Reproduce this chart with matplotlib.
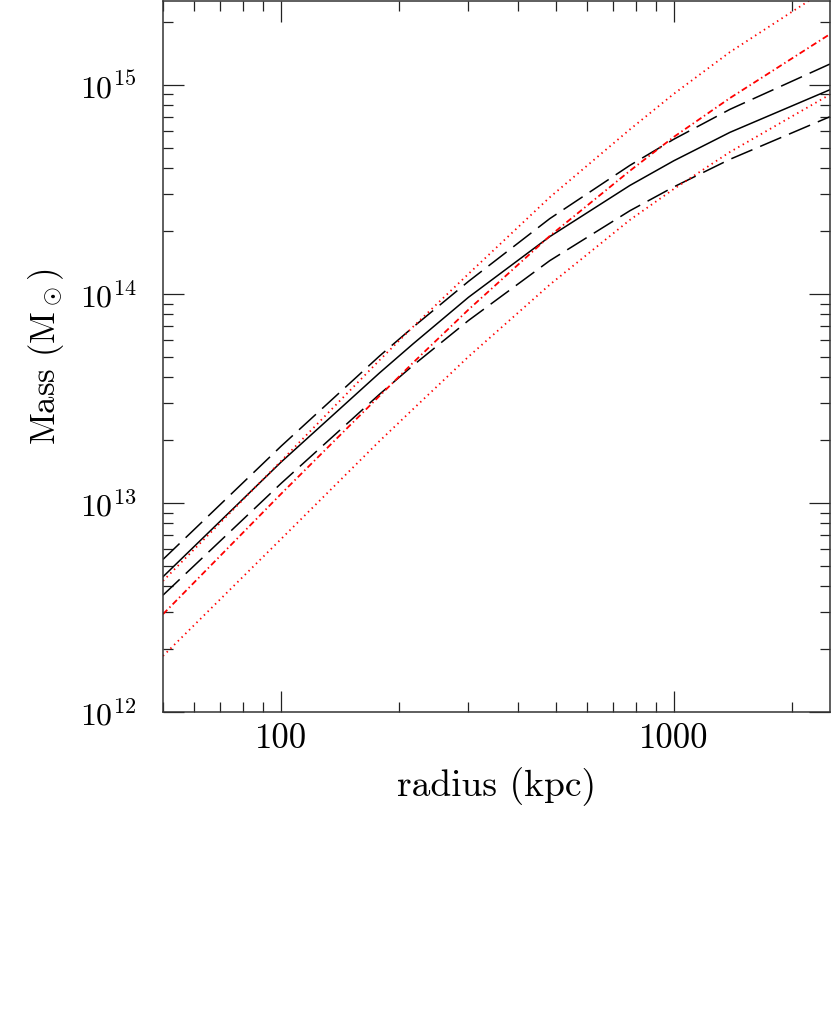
# ==============importing libraries==================
import numpy as np
import matplotlib
matplotlib.use("Agg")
import matplotlib.pyplot as plt

# ===============chart data=========================================
# radius in kpc, masses stored as log10(M / Msun)
radius = [50, 100, 178, 217, 300, 483, 773, 1000, 1390, 2500]

dashed_upper = [12.730, 13.272, 13.703, 13.842, 14.060, 14.360, 14.615, 14.740, 14.883, 15.100]
solid_mid = [12.647, 13.196, 13.622, 13.762, 13.984, 14.274, 14.519, 14.637, 14.773, 14.977]
dashed_lower = [12.559, 13.094, 13.520, 13.659, 13.873, 14.159, 14.398, 14.512, 14.644, 14.848]

red_dotted_upper = [12.627, 13.201, 13.683, 13.844, 14.096, 14.462, 14.787, 14.957, 15.157, 15.468]
red_dashdot = [12.468, 13.044, 13.512, 13.672, 13.925, 14.277, 14.589, 14.751, 14.937, 15.243]
red_dotted_lower = [12.268, 12.828, 13.296, 13.450, 13.700, 14.044, 14.354, 14.502, 14.679, 14.954]

x_limits = [50, 2500]
y_limits = [1e12, 2.52e15]
# ===================================================

plt.rcParams['font.family'] = ['cmr10']
plt.rcParams['mathtext.fontset'] = 'cm'
plt.rcParams['axes.formatter.use_mathtext'] = True

fig = plt.figure(figsize=(8.31, 10.15), dpi=100)
ax = fig.add_axes([163 / 831, (1015 - 712) / 1015, 667 / 831, 711 / 1015])

r = np.array(radius)

# ==================black curves========================
ax.plot(r, 10 ** np.array(solid_mid), color='black', lw=1.1)
ax.plot(r, 10 ** np.array(dashed_upper), color='black', lw=1.1, dashes=(15, 5.5))
ax.plot(r, 10 ** np.array(dashed_lower), color='black', lw=1.1, dashes=(15, 5.5))

# ==================red curves==========================
ax.plot(r, 10 ** np.array(red_dotted_upper), color='red', lw=1.3, dashes=(0.8, 2.1))
ax.plot(r, 10 ** np.array(red_dotted_lower), color='red', lw=1.3, dashes=(0.8, 2.1))
ax.plot(r, 10 ** np.array(red_dashdot), color='red', lw=1.3, dashes=(3.4, 1.7, 0.8, 1.7))

# ==================axes styling========================
ax.set_xscale('log')
ax.set_yscale('log')
ax.set_xlim(x_limits)
ax.set_ylim(y_limits)

ax.set_xticks([100, 1000])
ax.set_xticklabels(['100', '1000'])

for side in ax.spines.values():
    side.set_linewidth(1.1)
    side.set_color('#333333')

ax.tick_params(which='both', direction='in', top=True, right=True, color='#222222')
ax.tick_params(which='major', length=15, width=0.9)
ax.tick_params(which='minor', length=7.5, width=0.9)
ax.tick_params(axis='x', which='major', labelsize=25, pad=8)
ax.tick_params(axis='y', which='major', labelsize=23, pad=19)

ax.set_xlabel('radius (kpc)', fontsize=27, labelpad=9)
ax.set_ylabel(r'Mass (M$_\odot$)', fontsize=25, labelpad=10)

fig.savefig('out.png', dpi=100)
